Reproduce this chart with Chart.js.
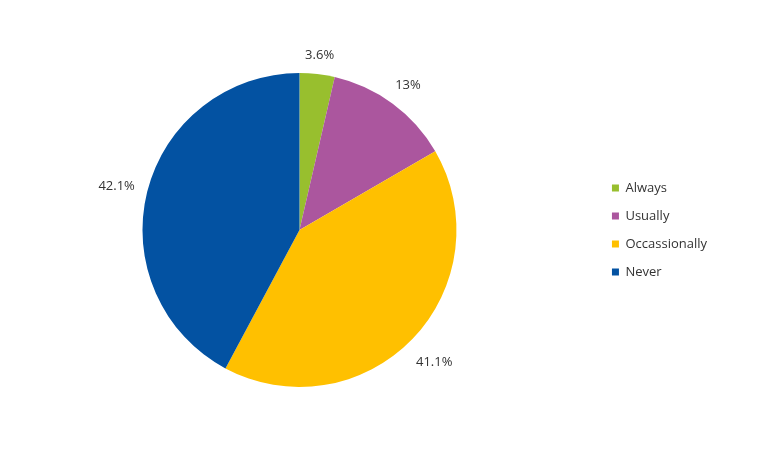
<!DOCTYPE html>
<html>
<head>
<meta charset="utf-8">
<script src="https://cdn.jsdelivr.net/npm/chart.js@4.4.1/dist/chart.umd.min.js"></script>
<style>
  html, body { margin: 0; padding: 0; background: #fff; }
  #wrap { width: 758px; height: 449px; }
</style>
</head>
<body>
<div id="wrap"><canvas id="pieChart"></canvas></div>
<script>
// data
const categories = ["Always", "Usually", "Occassionally", "Never"];
const shares = [3.6, 13, 41.1, 42.1];
const shareLabels = ["3.6%", "13%", "41.1%", "42.1%"];
const sliceColors = ["#98BF2E", "#AB569E", "#FFC000", "#0352A2"];

// percentage labels outside each slice
const outsideLabels = {
    id: "outsideLabels",
    afterDatasetsDraw(chart) {
        const ctx = chart.ctx;
        const meta = chart.getDatasetMeta(0);
        ctx.save();
        ctx.font = "13px 'Open Sans', sans-serif";
        ctx.fillStyle = "#333333";
        ctx.textAlign = "center";
        ctx.textBaseline = "middle";
        meta.data.forEach((arc, i) => {
            const mid = (arc.startAngle + arc.endAngle) / 2;
            const cos = Math.cos(mid), sin = Math.sin(mid);
            const w = ctx.measureText(shareLabels[i]).width / 2;
            const h = 7.5;
            const dist = arc.outerRadius + 12 + Math.abs(cos) * w + Math.abs(sin) * h;
            ctx.fillText(shareLabels[i], arc.x + cos * dist, arc.y + sin * dist + 2);
        });
        ctx.restore();
    }
};

new Chart(document.getElementById("pieChart"), {
    type: "pie",
    data: {
        labels: categories,
        datasets: [{
            data: shares,
            backgroundColor: sliceColors,
            borderWidth: 0
        }]
    },
    options: {
        responsive: true,
        maintainAspectRatio: false,
        animation: false,
        layout: { padding: { left: 2, right: 41, top: 73, bottom: 62 } },
        plugins: {
            tooltip: { enabled: false },
            legend: {
                position: "right",
                labels: {
                    boxWidth: 7,
                    boxHeight: 7,
                    padding: 15,
                    color: "#333333",
                    font: { family: "'Open Sans', sans-serif", size: 13 }
                }
            }
        }
    },
    plugins: [outsideLabels]
});
</script>
</body>
</html>
